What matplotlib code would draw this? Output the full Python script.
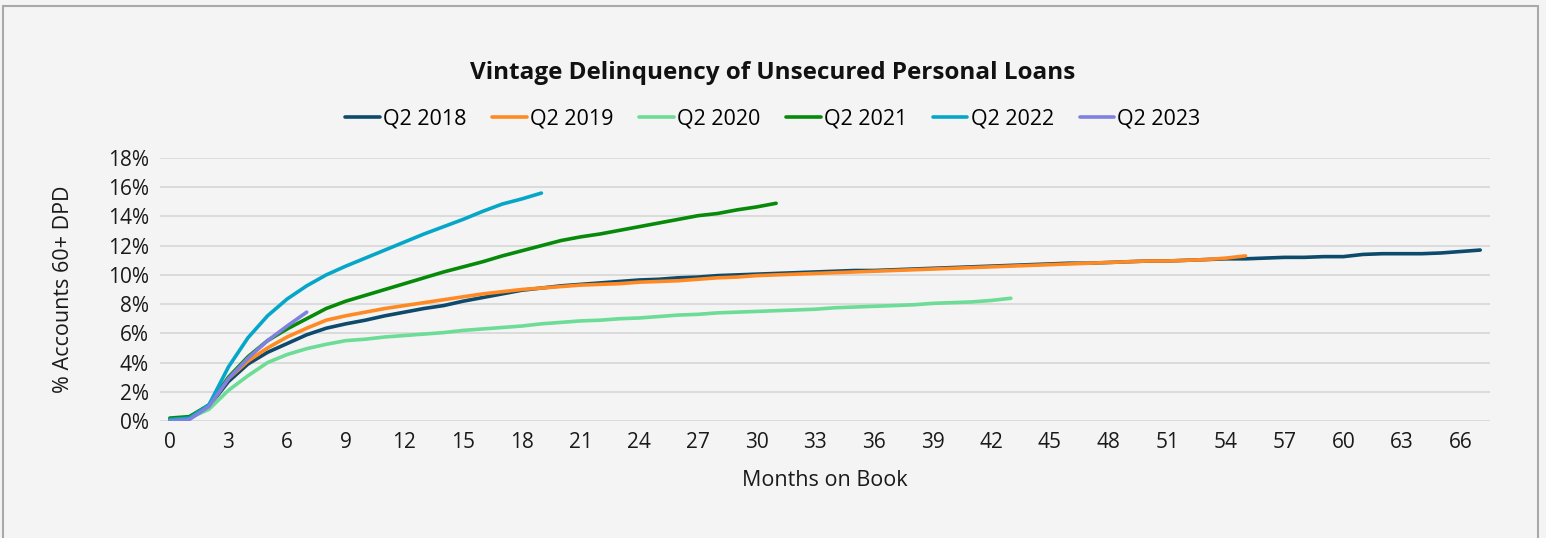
import matplotlib
matplotlib.use("Agg")
import matplotlib.pyplot as plt
from matplotlib.patches import Rectangle
from matplotlib.ticker import FuncFormatter, MultipleLocator

# % of accounts 60+ DPD by months on book, one list per vintage
q2_2018 = [0.1, 0.2, 1.0, 2.7, 3.9, 4.7, 5.3, 5.9, 6.35, 6.65, 6.9, 7.2, 7.45, 7.7, 7.9,
           8.2, 8.45, 8.7, 8.95, 9.1, 9.25, 9.35, 9.45, 9.55, 9.65, 9.7, 9.8, 9.85, 9.95,
           10.0, 10.05, 10.1, 10.15, 10.2, 10.25, 10.3, 10.3, 10.35, 10.4, 10.45, 10.5,
           10.55, 10.6, 10.65, 10.7, 10.75, 10.8, 10.8, 10.85, 10.9, 10.95, 10.95, 11.0,
           11.05, 11.1, 11.1, 11.15, 11.2, 11.2, 11.25, 11.25, 11.4, 11.45, 11.45, 11.45,
           11.5, 11.6, 11.7]
q2_2019 = [0.1, 0.2, 1.0, 2.9, 4.1, 5.0, 5.75, 6.35, 6.9, 7.2, 7.45, 7.7, 7.9, 8.1, 8.3,
           8.5, 8.7, 8.85, 9.0, 9.1, 9.2, 9.3, 9.35, 9.4, 9.5, 9.55, 9.6, 9.7, 9.8, 9.85,
           9.95, 10.0, 10.05, 10.1, 10.15, 10.2, 10.25, 10.3, 10.35, 10.4, 10.45, 10.5,
           10.55, 10.6, 10.65, 10.7, 10.75, 10.8, 10.85, 10.9, 10.95, 10.95, 11.0, 11.05,
           11.15, 11.3]
q2_2020 = [0.1, 0.2, 0.8, 2.1, 3.1, 4.0, 4.55, 4.95, 5.25, 5.5, 5.6, 5.75, 5.85, 5.95,
           6.05, 6.2, 6.3, 6.4, 6.5, 6.65, 6.75, 6.85, 6.9, 7.0, 7.05, 7.15, 7.25, 7.3,
           7.4, 7.45, 7.5, 7.55, 7.6, 7.65, 7.75, 7.8, 7.85, 7.9, 7.95, 8.05, 8.1, 8.15,
           8.25, 8.4]
q2_2021 = [0.2, 0.3, 1.1, 3.0, 4.4, 5.5, 6.3, 7.0, 7.7, 8.2, 8.6, 9.0, 9.4, 9.8, 10.2,
           10.55, 10.9, 11.3, 11.65, 12.0, 12.35, 12.6, 12.8, 13.05, 13.3, 13.55, 13.8,
           14.05, 14.2, 14.45, 14.65, 14.9]
q2_2022 = [0.1, 0.2, 1.1, 3.7, 5.7, 7.2, 8.35, 9.25, 10.0, 10.6, 11.15, 11.7, 12.25,
           12.8, 13.3, 13.8, 14.35, 14.85, 15.2, 15.6]
q2_2023 = [0.0, 0.1, 1.0, 2.9, 4.3, 5.5, 6.5, 7.45]

series = {
    "Q2 2018": (q2_2018, "#0d4a6b"),
    "Q2 2019": (q2_2019, "#ff8a24"),
    "Q2 2020": (q2_2020, "#6cdc96"),
    "Q2 2021": (q2_2021, "#078a0a"),
    "Q2 2022": (q2_2022, "#06a6c9"),
    "Q2 2023": (q2_2023, "#8080e0"),
}

plt.rcParams["font.family"] = ["Open Sans", "DejaVu Sans"]
bg = "#f4f4f4"

fig = plt.figure(figsize=(15.46, 5.38), dpi=100, facecolor=bg)
ax = fig.add_axes([160 / 1546, 1 - 421 / 538, 1330 / 1546, 263 / 538])
ax.set_facecolor(bg)

for name, (vals, color) in series.items():
    ax.plot(range(len(vals)), vals, color=color, lw=2.6, label=name,
            solid_capstyle="round")

ax.set_xlim(-0.5, 67.5)
ax.set_ylim(0, 18)
ax.xaxis.set_major_locator(MultipleLocator(3))
ax.yaxis.set_major_locator(MultipleLocator(2))
ax.yaxis.set_major_formatter(FuncFormatter(lambda v, p: f"{v:.0f}%"))
ax.grid(axis="y", color="#d9d9d9", lw=1.3)
ax.set_axisbelow(True)
for s in ax.spines.values():
    s.set_visible(False)
ax.tick_params(length=0, labelsize=15, colors="#1a1a1a", pad=8)

ax.set_xlabel("Months on Book", fontsize=15.5, color="#1a1a1a", labelpad=12)
ax.set_ylabel("% Accounts 60+ DPD", fontsize=15.5, color="#1a1a1a", labelpad=24)

fig.text(0.5, 1 - 73 / 538, "Vintage Delinquency of Unsecured Personal Loans",
         ha="center", va="center", fontsize=17.5, fontweight="bold", color="#111111")
fig.legend(loc="center", bbox_to_anchor=(0.5, 1 - 119 / 538), ncol=6, frameon=False,
           fontsize=15.5, handlelength=1.6, handletextpad=0.15, columnspacing=1.2)

fig.patches.append(Rectangle((3 / 1546, -0.01), 1535 / 1546, 1 - 6 / 538 + 0.01,
                             transform=fig.transFigure, fill=False,
                             edgecolor="#a9a9a9", lw=1.5))

fig.savefig("out.png", dpi=100, facecolor=bg)
